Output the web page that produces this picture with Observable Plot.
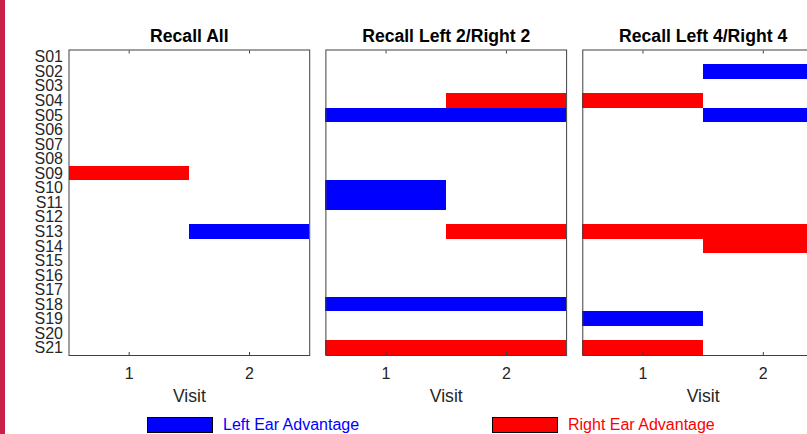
<!DOCTYPE html>
<html>
<head>
<meta charset="utf-8">
<script src="https://cdn.jsdelivr.net/npm/d3@7"></script>
<script src="https://cdn.jsdelivr.net/npm/@observablehq/plot@0.6"></script>
<style>
  html, body { margin: 0; padding: 0; background: #fff; overflow: hidden; width: 807px; height: 434px; }
  #wrap { position: relative; width: 807px; height: 434px; overflow: hidden; font-family: "Liberation Sans", Arial, sans-serif; }
  #edge { position: absolute; left: 0; top: 0; width: 5px; height: 434px; background: #c9204a; }
  #chart { position: absolute; left: 0; top: 0; }
  .sw { position: absolute; box-sizing: border-box; border: 1px solid #000; width: 66px; height: 16px; top: 417px; }
  .lt { position: absolute; font-size: 16px; line-height: 16px; top: 417px; white-space: nowrap; }
</style>
</head>
<body>
<div id="wrap">
  <div id="chart"></div>
  <div id="edge"></div>
  <div class="sw" style="left:147px;background:#0000ff"></div>
  <div class="lt" style="left:223px;color:#0000ff">Left Ear Advantage</div>
  <div class="sw" style="left:492px;background:#ff0000"></div>
  <div class="lt" style="left:568px;color:#ff0000">Right Ear Advantage</div>
</div>
<script>
// Conditions (panels)
const conditions = ["Recall All", "Recall Left 2/Right 2", "Recall Left 4/Right 4"];
// Subjects (y categories)
const subjects = ["S01","S02","S03","S04","S05","S06","S07","S08","S09","S10","S11",
                  "S12","S13","S14","S15","S16","S17","S18","S19","S20","S21"];
// Visits (x categories)
const visits = [1, 2];
// Ear advantage per subject: "L" = left, "R" = right, "" = none
const recallAllV1 = ["","","","","","","","","R","","","","","","","","","","","",""];
const recallAllV2 = ["","","","","","","","","","","","","L","","","","","","","",""];
const left2V1     = ["","","","","L","","","","","L","L","","","","","","","L","","","R"];
const left2V2     = ["","","","R","L","","","","","","","","R","","","","","L","","","R"];
const left4V1     = ["","","","R","","","","","","","","","R","","","","","","L","","R"];
const left4V2     = ["","L","","","L","","","","","","","","R","R","","","","","","",""];
const legendLabels = {L: "Left Ear Advantage", R: "Right Ear Advantage"};

const byCondition = [[recallAllV1, recallAllV2], [left2V1, left2V2], [left4V1, left4V2]];
const cells = [];
byCondition.forEach((pair, ci) => {
  pair.forEach((arr, vi) => {
    arr.forEach((a, si) => {
      if (a) cells.push({cond: conditions[ci], visit: visits[vi], subject: subjects[si], adv: legendLabels[a]});
    });
  });
});

const chart = Plot.plot({
  width: 823,
  height: 415,
  marginLeft: 68.5,
  marginRight: 0,
  marginTop: 49.5,
  marginBottom: 60,
  style: {fontFamily: "'Liberation Sans', Arial, sans-serif", background: "#fff", color: "#262626", overflow: "visible"},
  fx: {domain: conditions, paddingInner: 0.063, paddingOuter: 0, round: false},
  x: {type: "band", domain: visits, padding: 0, round: false},
  y: {type: "band", domain: subjects, padding: 0, round: false},
  color: {domain: ["Left Ear Advantage", "Right Ear Advantage"], range: ["#0000ff", "#ff0000"]},
  marks: [
    Plot.cell(cells, {fx: "cond", x: "visit", y: "subject", fill: "adv", shapeRendering: "crispEdges"}),
    Plot.frame({stroke: "#404040", strokeWidth: 1}),
    Plot.axisFx({anchor: "top", tickSize: 0, tickPadding: 8, label: null, fontSize: 17.6, fontWeight: "bold", fill: "#000"}),
    Plot.axisY({anchor: "left", tickSize: 0, tickPadding: 6, label: null, fontSize: 16}),
    Plot.axisX({anchor: "bottom", tickSize: 0, tickPadding: 12, label: null, fontSize: 16}),
    Plot.axisX({anchor: "bottom", tickSize: -3, tickFormat: () => "", label: null, stroke: "#404040"}),
    Plot.axisX({anchor: "top", tickSize: -3, tickFormat: () => "", label: null, stroke: "#404040"}),
    Plot.text(["Visit"], {frameAnchor: "bottom", lineAnchor: "middle", dy: 40.5, text: d => d, fontSize: 17.6, fill: "#262626"})
  ]
});
chart.style.maxWidth = "none";
document.getElementById("chart").appendChild(chart);
</script>
</body>
</html>
